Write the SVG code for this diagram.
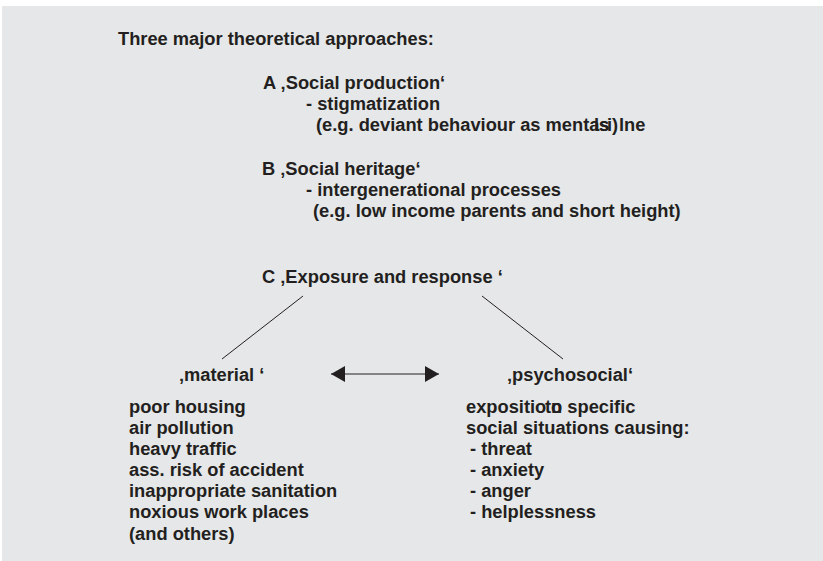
<svg xmlns="http://www.w3.org/2000/svg" width="823" height="561" viewBox="0 0 823 561">
<defs>
<style>
.t{font-family:"Liberation Sans",Arial,sans-serif;font-weight:bold;font-size:18.3px;fill:#231f20}
.c{stroke:#231f20;stroke-width:1;fill:none}
</style>
<marker id="ah" viewBox="0 0 14 16" refX="14" refY="8" markerWidth="14" markerHeight="16" markerUnits="userSpaceOnUse" orient="auto-start-reverse">
<path d="M0,0 L14,8 L0,16 Z" fill="#231f20"/>
</marker>
</defs>
<rect x="2" y="6" width="821" height="555" fill="#e6e7e9"/>
<g id="title"><text class="t" x="118" y="45">Three major theoretical approaches:</text></g>
<g id="approachA">
<text class="t" x="263" y="89">A  ‚Social production‘</text>
<text class="t" x="306" y="110">- stigmatization</text>
<text class="t" x="316" y="131">(e.g. deviant behaviour as menta<tspan x="594">ls</tspan><tspan x="599">s</tspan><tspan x="607">i)</tspan><tspan x="619">lne</tspan></text>
</g>
<g id="approachB">
<text class="t" x="262" y="175">B  ‚Social heritage‘</text>
<text class="t" x="306" y="196">- intergenerational processes</text>
<text class="t" x="313" y="217">(e.g. low income parents and short height)</text>
</g>
<g id="approachC"><text class="t" x="262" y="283">C  ‚Exposure and response  ‘</text></g>
<g id="material">
<text class="t" x="179" y="381">‚material ‘</text>
<text class="t" x="129" y="413">poor housing</text>
<text class="t" x="129" y="434">air pollution</text>
<text class="t" x="129" y="455">heavy traffic</text>
<text class="t" x="129" y="476">ass. risk of accident</text>
<text class="t" x="129" y="497">inappropriate sanitation</text>
<text class="t" x="129" y="518">noxious work places</text>
<text class="t" x="129" y="540">(and others)</text>
</g>
<g id="psychosocial">
<text class="t" x="507" y="381">‚psychosocial‘</text>
<text class="t" x="466" y="413">expositio<tspan x="551">n</tspan><tspan x="545">to specific</tspan></text>
<text class="t" x="466" y="434">social situations causing:</text>
<text class="t" x="470" y="455">- threat</text>
<text class="t" x="470" y="476">- anxiety</text>
<text class="t" x="470" y="497">- anger</text>
<text class="t" x="470" y="518">- helplessness</text>
</g>
<g id="connectors">
<line class="c" x1="303" y1="296" x2="222" y2="359"/>
<line class="c" x1="482" y1="296" x2="563" y2="359"/>
<line class="c" x1="331" y1="374" x2="439" y2="374" stroke-width="1.5" marker-start="url(#ah)" marker-end="url(#ah)"/>
</g>
</svg>
